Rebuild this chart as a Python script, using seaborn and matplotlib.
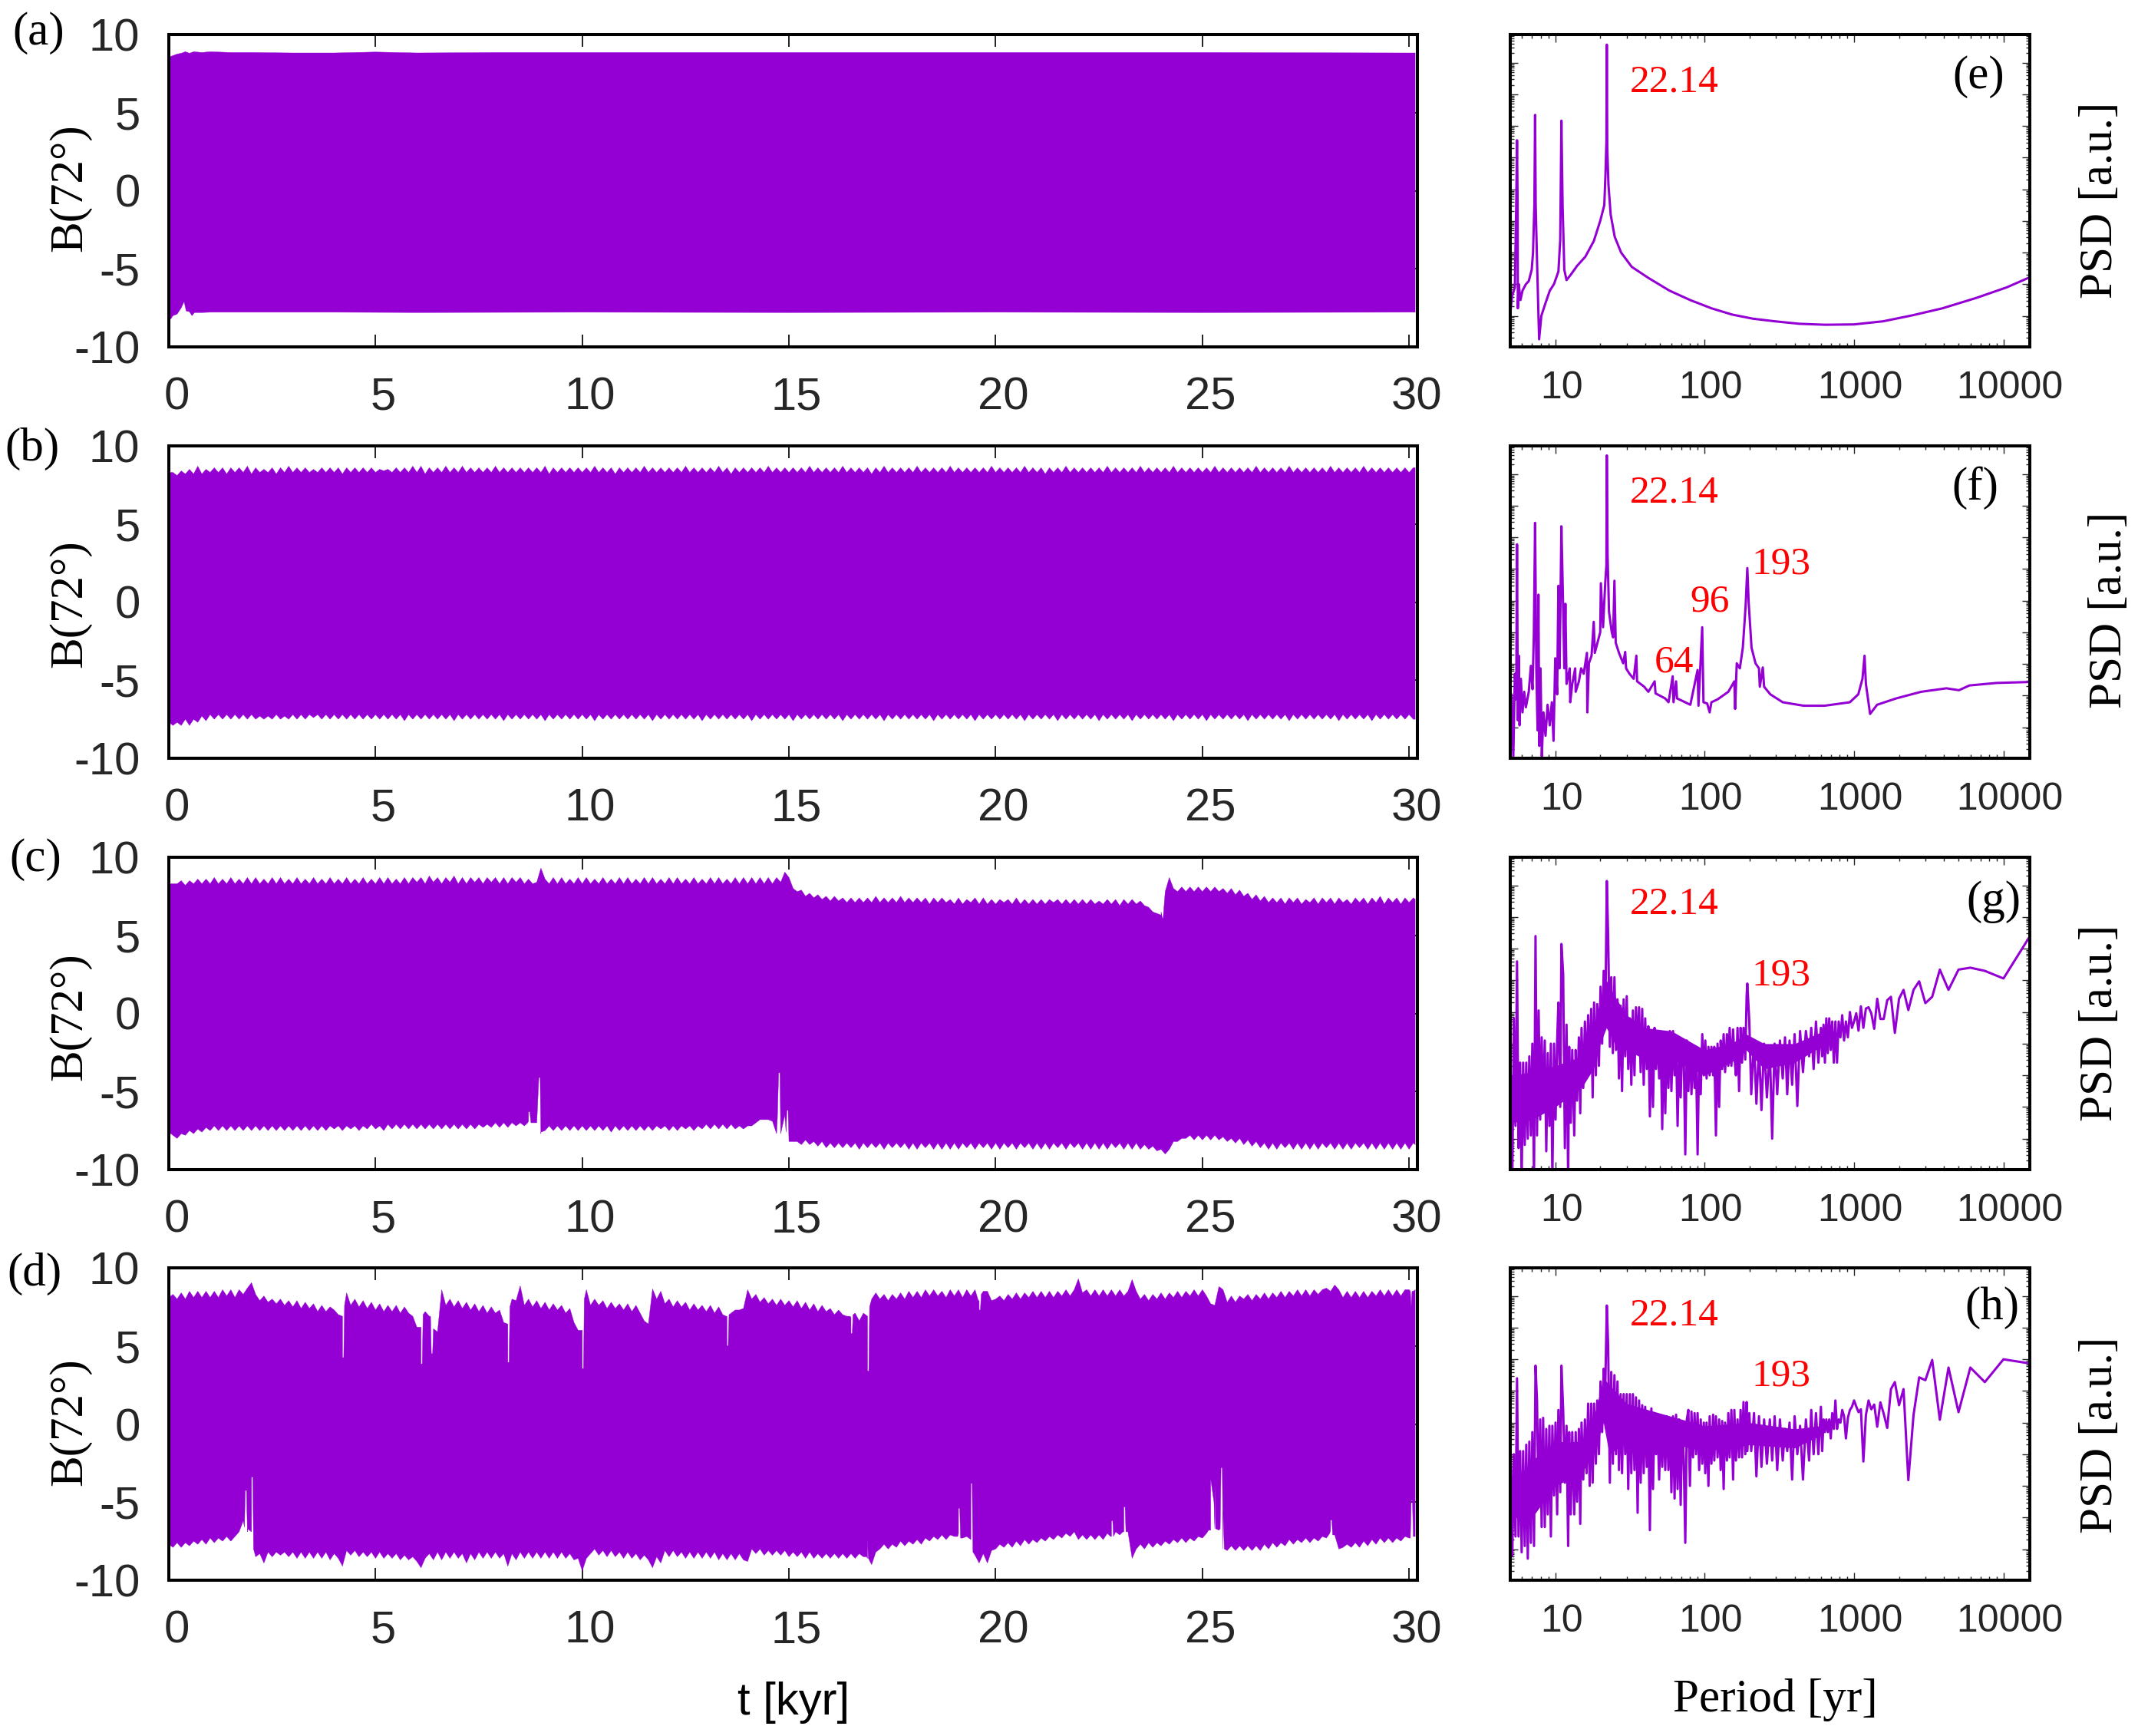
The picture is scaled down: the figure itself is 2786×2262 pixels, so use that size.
import numpy as np
import matplotlib
matplotlib.use("Agg")
import matplotlib.pyplot as plt
from matplotlib.ticker import LogLocator, NullFormatter, NullLocator
from matplotlib.transforms import ScaledTranslation
import seaborn as sns

W, H = 2786, 2262
PURPLE = "#9400D3"

# time axis for the envelopes [kyr]
t_grid = np.arange(302) / 10

# panel (a): flat envelope, only a few points needed
a_up_t = [0, 0.1, 0.2, 0.3, 0.4, 0.5, 0.6, 0.8, 1.0, 1.5, 2, 3, 4, 5, 6, 8, 10, 15, 20, 25, 30, 30.15]
a_up = [8.55, 8.65, 8.75, 8.8, 8.9, 8.8, 8.9, 8.85, 8.9, 8.85, 8.85, 8.82, 8.82, 8.88, 8.82, 8.85, 8.85, 8.85, 8.85, 8.85, 8.82, 8.82]
a_lo_t = [0, 0.05, 0.1, 0.2, 0.3, 0.37, 0.42, 0.5, 0.56, 0.62, 0.8, 1, 2, 4, 6, 10, 15, 20, 25, 30, 30.15]
a_lo = [-8.25, -8.2, -8.0, -7.9, -7.5, -7.1, -7.7, -7.75, -8.0, -7.8, -7.8, -7.78, -7.78, -7.78, -7.8, -7.78, -7.8, -7.78, -7.8, -7.78, -7.78]

b_up = [
    8.3, 8.3, 8.1, 8.4, 8.2, 8.5, 8.2, 8.7, 8.2, 8.5, 8.3, 8.6, 8.3, 8.6, 8.2, 8.6, 8.3, 8.6, 8.3, 8.7,
    8.2, 8.6, 8.3, 8.5, 8.3, 8.6, 8.2, 8.6, 8.3, 8.7, 8.3, 8.6, 8.3, 8.6, 8.3, 8.5, 8.3, 8.6, 8.3, 8.6,
    8.3, 8.6, 8.2, 8.6, 8.3, 8.6, 8.3, 8.6, 8.3, 8.6, 8.3, 8.5, 8.4, 8.5, 8.3, 8.6, 8.3, 8.6, 8.3, 8.7,
    8.3, 8.7, 8.2, 8.6, 8.3, 8.6, 8.3, 8.7, 8.3, 8.6, 8.3, 8.7, 8.3, 8.6, 8.3, 8.6, 8.3, 8.6, 8.3, 8.7,
    8.3, 8.6, 8.3, 8.6, 8.3, 8.6, 8.3, 8.6, 8.3, 8.6, 8.3, 8.7, 8.2, 8.6, 8.3, 8.6, 8.3, 8.6, 8.3, 8.6,
    8.3, 8.6, 8.3, 8.7, 8.3, 8.6, 8.3, 8.6, 8.2, 8.6, 8.3, 8.6, 8.3, 8.6, 8.3, 8.7, 8.3, 8.6, 8.3, 8.6,
    8.3, 8.6, 8.3, 8.6, 8.3, 8.7, 8.3, 8.6, 8.3, 8.6, 8.3, 8.6, 8.3, 8.7, 8.3, 8.6, 8.2, 8.6, 8.3, 8.6,
    8.3, 8.6, 8.3, 8.6, 8.3, 8.7, 8.3, 8.6, 8.3, 8.6, 8.3, 8.6, 8.3, 8.6, 8.3, 8.7, 8.3, 8.6, 8.3, 8.6,
    8.3, 8.6, 8.3, 8.7, 8.3, 8.6, 8.3, 8.6, 8.3, 8.6, 8.2, 8.6, 8.3, 8.7, 8.3, 8.6, 8.3, 8.6, 8.3, 8.6,
    8.3, 8.7, 8.3, 8.6, 8.3, 8.6, 8.3, 8.6, 8.3, 8.7, 8.3, 8.6, 8.3, 8.6, 8.3, 8.6, 8.3, 8.6, 8.3, 8.7,
    8.3, 8.6, 8.3, 8.6, 8.3, 8.6, 8.3, 8.7, 8.3, 8.6, 8.3, 8.6, 8.2, 8.6, 8.3, 8.6, 8.3, 8.7, 8.3, 8.6,
    8.3, 8.6, 8.3, 8.6, 8.3, 8.6, 8.3, 8.7, 8.3, 8.6, 8.3, 8.6, 8.3, 8.6, 8.3, 8.7, 8.3, 8.6, 8.3, 8.6,
    8.3, 8.6, 8.3, 8.7, 8.3, 8.6, 8.3, 8.6, 8.3, 8.6, 8.3, 8.6, 8.3, 8.7, 8.3, 8.6, 8.3, 8.6, 8.3, 8.6,
    8.3, 8.6, 8.3, 8.7, 8.3, 8.6, 8.3, 8.6, 8.3, 8.6, 8.3, 8.7, 8.3, 8.6, 8.3, 8.6, 8.3, 8.6, 8.3, 8.6,
    8.3, 8.7, 8.3, 8.6, 8.3, 8.6, 8.3, 8.6, 8.3, 8.7, 8.3, 8.6, 8.3, 8.6, 8.3, 8.6, 8.3, 8.6, 8.3, 8.6,
    8.3, 8.6,
]
b_lo = [
    -7.7, -7.9, -7.7, -7.9, -7.5, -7.9, -7.5, -7.7, -7.3, -7.6, -7.2, -7.5, -7.2, -7.5, -7.2, -7.5, -7.2, -7.5, -7.2, -7.5,
    -7.2, -7.5, -7.3, -7.5, -7.3, -7.5, -7.2, -7.5, -7.3, -7.5, -7.2, -7.5, -7.2, -7.5, -7.2, -7.4, -7.2, -7.5, -7.2, -7.5,
    -7.2, -7.5, -7.2, -7.5, -7.2, -7.5, -7.2, -7.5, -7.2, -7.5, -7.2, -7.5, -7.2, -7.5, -7.2, -7.5, -7.2, -7.6, -7.2, -7.5,
    -7.2, -7.5, -7.2, -7.5, -7.2, -7.5, -7.2, -7.5, -7.2, -7.6, -7.2, -7.5, -7.2, -7.5, -7.2, -7.5, -7.2, -7.5, -7.2, -7.5,
    -7.2, -7.6, -7.2, -7.5, -7.2, -7.5, -7.2, -7.5, -7.2, -7.5, -7.2, -7.6, -7.2, -7.5, -7.2, -7.5, -7.2, -7.5, -7.2, -7.5,
    -7.2, -7.5, -7.2, -7.6, -7.2, -7.5, -7.2, -7.5, -7.2, -7.5, -7.2, -7.5, -7.2, -7.5, -7.2, -7.5, -7.2, -7.6, -7.2, -7.5,
    -7.2, -7.5, -7.2, -7.5, -7.2, -7.5, -7.2, -7.5, -7.2, -7.6, -7.2, -7.5, -7.2, -7.5, -7.2, -7.5, -7.2, -7.5, -7.2, -7.5,
    -7.2, -7.6, -7.2, -7.5, -7.2, -7.5, -7.2, -7.5, -7.2, -7.5, -7.2, -7.6, -7.2, -7.5, -7.2, -7.5, -7.2, -7.5, -7.2, -7.5,
    -7.2, -7.5, -7.2, -7.6, -7.2, -7.5, -7.2, -7.5, -7.2, -7.5, -7.2, -7.5, -7.2, -7.6, -7.2, -7.5, -7.2, -7.5, -7.2, -7.5,
    -7.2, -7.5, -7.2, -7.5, -7.2, -7.6, -7.2, -7.5, -7.2, -7.5, -7.2, -7.5, -7.2, -7.5, -7.2, -7.6, -7.2, -7.5, -7.2, -7.5,
    -7.2, -7.5, -7.2, -7.5, -7.2, -7.5, -7.2, -7.6, -7.2, -7.5, -7.2, -7.5, -7.2, -7.5, -7.2, -7.6, -7.2, -7.5, -7.2, -7.5,
    -7.2, -7.5, -7.2, -7.5, -7.2, -7.6, -7.2, -7.5, -7.2, -7.5, -7.2, -7.5, -7.2, -7.6, -7.2, -7.5, -7.2, -7.5, -7.2, -7.5,
    -7.2, -7.5, -7.2, -7.6, -7.2, -7.5, -7.2, -7.5, -7.2, -7.5, -7.2, -7.6, -7.2, -7.5, -7.2, -7.5, -7.2, -7.5, -7.2, -7.5,
    -7.2, -7.6, -7.2, -7.5, -7.2, -7.5, -7.2, -7.5, -7.2, -7.5, -7.2, -7.6, -7.2, -7.5, -7.2, -7.5, -7.2, -7.5, -7.2, -7.5,
    -7.2, -7.5, -7.2, -7.6, -7.2, -7.5, -7.2, -7.5, -7.2, -7.5, -7.2, -7.6, -7.2, -7.5, -7.2, -7.5, -7.2, -7.5, -7.2, -7.5,
    -7.2, -7.5,
]

c_up = [
    8.3, 8.3, 8.3, 8.5, 8.2, 8.5, 8.3, 8.6, 8.3, 8.6, 8.3, 8.7, 8.3, 8.6, 8.3, 8.7, 8.3, 8.6, 8.3, 8.7,
    8.3, 8.7, 8.3, 8.6, 8.3, 8.7, 8.3, 8.7, 8.3, 8.6, 8.3, 8.7, 8.3, 8.6, 8.3, 8.7, 8.3, 8.6, 8.3, 8.7,
    8.3, 8.6, 8.3, 8.7, 8.3, 8.6, 8.3, 8.7, 8.3, 8.6, 8.3, 8.7, 8.3, 8.7, 8.3, 8.6, 8.3, 8.7, 8.3, 8.7,
    8.4, 8.7, 8.3, 8.8, 8.4, 8.7, 8.3, 8.7, 8.4, 8.8, 8.3, 8.7, 8.3, 8.7, 8.4, 8.7, 8.3, 8.7, 8.4, 8.7,
    8.3, 8.7, 8.3, 8.7, 8.4, 8.7, 8.3, 8.6, 8.3, 8.4, 9.3, 8.6, 8.3, 8.7, 8.3, 8.7, 8.3, 8.6, 8.3, 8.7,
    8.3, 8.7, 8.3, 8.6, 8.3, 8.7, 8.3, 8.6, 8.3, 8.7, 8.3, 8.7, 8.3, 8.6, 8.3, 8.7, 8.3, 8.7, 8.3, 8.6,
    8.3, 8.7, 8.3, 8.7, 8.3, 8.6, 8.3, 8.7, 8.3, 8.6, 8.3, 8.7, 8.3, 8.7, 8.3, 8.6, 8.3, 8.7, 8.3, 8.7,
    8.3, 8.7, 8.3, 8.7, 8.3, 8.7, 8.3, 8.7, 8.4, 9.05, 8.7, 8.0, 7.8, 7.9, 7.5, 7.7, 7.4, 7.6, 7.3, 7.5,
    7.2, 7.5, 7.2, 7.4, 7.1, 7.4, 7.1, 7.4, 7.1, 7.4, 7.1, 7.5, 7.1, 7.4, 7.1, 7.4, 7.1, 7.5, 7.1, 7.4,
    7.1, 7.4, 7.1, 7.4, 7.0, 7.4, 7.1, 7.4, 7.1, 7.3, 7.0, 7.4, 7.0, 7.3, 7.1, 7.4, 7.0, 7.4, 7.0, 7.3,
    7.0, 7.3, 7.1, 7.3, 7.0, 7.4, 7.0, 7.3, 7.0, 7.3, 7.0, 7.3, 7.0, 7.3, 7.1, 7.3, 7.0, 7.3, 7.0, 7.3,
    7.0, 7.3, 7.0, 7.3, 7.0, 7.2, 7.0, 7.3, 7.0, 7.3, 6.9, 7.3, 7.0, 7.3, 7.0, 7.2, 6.9, 6.8, 6.5, 6.4,
    6.3, 7.8, 8.7, 8.0, 7.8, 8.1, 7.8, 8.1, 7.8, 8.1, 7.8, 8.1, 7.8, 8.1, 7.8, 8.0, 7.7, 8.0, 7.6, 7.9,
    7.5, 7.7, 7.3, 7.6, 7.2, 7.5, 7.1, 7.4, 7.1, 7.4, 7.0, 7.4, 7.1, 7.4, 7.0, 7.3, 7.1, 7.4, 7.0, 7.4,
    7.1, 7.4, 7.0, 7.4, 7.1, 7.3, 7.0, 7.4, 7.1, 7.4, 7.0, 7.4, 7.1, 7.5, 7.0, 7.4, 7.1, 7.4, 7.0, 7.4,
    7.1, 7.4,
]
c_lo = [
    -7.6, -7.8, -8.0, -7.7, -7.8, -7.5, -7.7, -7.4, -7.6, -7.3, -7.5, -7.2, -7.5, -7.2, -7.5, -7.2, -7.5, -7.2, -7.5, -7.2,
    -7.5, -7.2, -7.5, -7.2, -7.5, -7.2, -7.5, -7.2, -7.5, -7.2, -7.5, -7.2, -7.5, -7.2, -7.5, -7.2, -7.5, -7.2, -7.5, -7.2,
    -7.4, -7.2, -7.5, -7.2, -7.4, -7.2, -7.5, -7.2, -7.4, -7.1, -7.4, -7.2, -7.5, -7.1, -7.4, -7.1, -7.4, -7.1, -7.4, -7.1,
    -7.4, -7.1, -7.4, -7.1, -7.4, -7.1, -7.4, -7.1, -7.4, -7.1, -7.4, -7.1, -7.4, -7.1, -7.4, -7.1, -7.3, -7.1, -7.3, -7.0,
    -7.3, -7.0, -7.3, -7.0, -7.2, -7.0, -7.2, -6.9, -7.0, -7.0, -7.7, -7.5, -7.2, -7.5, -7.2, -7.5, -7.2, -7.5, -7.2, -7.5,
    -7.2, -7.5, -7.2, -7.5, -7.2, -7.5, -7.2, -7.6, -7.2, -7.5, -7.2, -7.5, -7.2, -7.5, -7.2, -7.5, -7.2, -7.5, -7.2, -7.4,
    -7.2, -7.5, -7.2, -7.5, -7.2, -7.4, -7.2, -7.5, -7.2, -7.4, -7.1, -7.4, -7.1, -7.4, -7.1, -7.4, -7.1, -7.4, -7.2, -7.4,
    -7.2, -7.2, -7.0, -6.8, -6.8, -6.8, -6.9, -7.7, -7.6, -6.5, -8.2, -8.2, -8.2, -8.4, -8.1, -8.4, -8.2, -8.5, -8.2, -8.6,
    -8.3, -8.6, -8.3, -8.6, -8.3, -8.6, -8.3, -8.7, -8.3, -8.6, -8.3, -8.6, -8.3, -8.7, -8.3, -8.6, -8.3, -8.6, -8.3, -8.7,
    -8.3, -8.7, -8.3, -8.6, -8.3, -8.7, -8.3, -8.7, -8.3, -8.7, -8.3, -8.7, -8.3, -8.6, -8.3, -8.7, -8.3, -8.6, -8.3, -8.7,
    -8.3, -8.7, -8.3, -8.6, -8.3, -8.7, -8.3, -8.6, -8.3, -8.7, -8.3, -8.7, -8.3, -8.7, -8.3, -8.6, -8.3, -8.7, -8.3, -8.6,
    -8.3, -8.7, -8.3, -8.7, -8.3, -8.7, -8.3, -8.7, -8.3, -8.6, -8.3, -8.7, -8.3, -8.7, -8.3, -8.7, -8.4, -8.7, -8.5, -8.8,
    -8.7, -9.0, -8.7, -8.2, -8.2, -8.0, -8.0, -7.8, -8.1, -7.8, -8.1, -7.8, -8.1, -7.8, -8.1, -7.9, -8.2, -8.0, -8.3, -8.0,
    -8.4, -8.1, -8.5, -8.2, -8.6, -8.3, -8.7, -8.3, -8.7, -8.3, -8.6, -8.3, -8.7, -8.3, -8.7, -8.3, -8.7, -8.3, -8.7, -8.3,
    -8.6, -8.3, -8.7, -8.3, -8.7, -8.3, -8.7, -8.3, -8.6, -8.3, -8.7, -8.3, -8.7, -8.3, -8.7, -8.3, -8.7, -8.3, -8.7, -8.3,
    -8.7, -8.3,
]
# narrow spikes that stick out of the (c) envelope
c_up_extra_t = [24.0, 24.03, 24.05, 30.15]
c_up_extra = [6.5, 6.1, 6.1, 7.3]
c_lo_extra_t = [8.68, 8.7, 8.73, 8.76, 8.95, 8.98, 9.0, 14.72, 14.75, 14.78, 14.8, 14.93, 14.95, 14.98, 30.15]
c_lo_extra = [-7.0, -6.3, -6.3, -7.0, -4.1, -4.1, -7.6, -6.7, -3.8, -3.8, -7.7, -7.6, -6.2, -6.2, -8.4]

d_up = [
    8.1, 8.3, 8.0, 8.4, 8.0, 8.5, 8.1, 8.5, 8.1, 8.5,
    8.1, 8.5, 8.1, 8.6, 8.2, 8.6, 8.1, 8.6, 8.3, 8.7,
    9.05, 8.3, 7.9, 8.2, 7.8, 8.0, 7.7, 8.0, 7.6, 7.9,
    7.5, 7.9, 7.4, 7.8, 7.4, 7.7, 7.2, 7.6, 7.2, 7.5,
    7.3, 7.0, 6.9, 8.4, 7.6, 8.0, 7.5, 7.9, 7.4, 7.8,
    7.3, 7.7, 7.2, 7.6, 7.2, 7.6, 7.1, 7.5, 7.1, 6.9,
    6.2, 6.2, 7.2, 6.9, 6.1, 5.9, 8.6, 7.6, 8.0, 7.5,
    7.9, 7.4, 7.8, 7.3, 7.7, 7.2, 7.6, 7.1, 7.5, 7.1,
    7.3, 6.5, 6.4, 8.0, 7.9, 8.85, 7.6, 8.0, 7.5, 7.9,
    7.4, 7.8, 7.3, 7.7, 7.3, 7.6, 7.1, 7.4, 6.5, 6.0,
    6.0, 8.6, 7.6, 8.0, 7.6, 7.9, 7.4, 7.8, 7.4, 7.7,
    7.3, 7.7, 7.2, 7.6, 7.1, 6.6, 6.4, 8.65, 8.0, 8.5,
    7.7, 8.0, 7.5, 7.9, 7.5, 7.8, 7.3, 7.7, 7.3, 7.6,
    7.2, 7.6, 7.1, 7.5, 7.0, 6.9, 7.1, 7.3, 7.3, 7.4,
    8.6, 8.0, 8.3, 7.8, 8.1, 7.7, 8.0, 7.6, 8.0, 7.6,
    7.9, 7.5, 7.9, 7.4, 7.8, 7.3, 7.7, 7.2, 7.6, 7.2,
    7.4, 7.0, 7.3, 7.0, 6.9, 6.8, 7.1, 6.6, 7.1, 6.9,
    8.0, 8.4, 8.0, 8.3, 7.9, 8.3, 8.0, 8.4, 8.0, 8.5,
    8.1, 8.5, 8.1, 8.6, 8.2, 8.6, 8.2, 8.5, 8.1, 8.6,
    8.2, 8.6, 8.1, 8.6, 8.2, 8.6, 7.9, 8.5, 8.5, 7.9,
    8.0, 8.2, 7.9, 8.3, 8.0, 8.4, 8.0, 8.4, 8.1, 8.5,
    8.1, 8.5, 8.1, 8.5, 8.1, 8.5, 8.2, 8.6, 8.2, 8.6,
    9.3, 8.4, 8.6, 8.2, 8.6, 8.2, 8.6, 8.2, 8.6, 8.2,
    8.6, 8.2, 8.5, 9.25, 8.5, 8.0, 8.3, 7.9, 8.3, 8.0,
    8.4, 8.0, 8.4, 8.1, 8.5, 8.1, 8.5, 8.2, 8.6, 8.2,
    8.6, 8.2, 7.7, 7.6, 8.8, 8.6, 7.8, 8.2, 7.8, 8.2,
    8.0, 8.3, 7.9, 8.3, 8.0, 8.4, 8.0, 8.4, 8.1, 8.5,
    8.1, 8.5, 8.2, 8.6, 8.2, 8.6, 8.2, 8.6, 8.3, 8.6,
    8.7, 8.5, 8.9, 8.6, 8.1, 8.5, 8.1, 8.5, 8.1, 8.5,
    8.1, 8.5, 8.2, 8.6, 8.2, 8.6, 8.2, 8.6, 8.2, 8.6,
    8.6, 8.5,
]
d_lo = [
    -7.7, -7.9, -7.6, -7.9, -7.6, -7.8, -7.5, -7.7, -7.4, -7.7,
    -7.3, -7.6, -7.3, -7.5, -7.2, -7.5, -7.2, -6.9, -6.2, -6.9,
    -6.9, -8.5, -8.3, -8.9, -8.2, -8.5, -8.2, -8.4, -8.2, -8.5,
    -8.2, -8.6, -8.2, -8.6, -8.2, -8.6, -8.2, -8.6, -8.2, -8.7,
    -8.3, -8.6, -9.1, -8.1, -8.4, -8.1, -8.5, -8.2, -8.5, -8.2,
    -8.6, -8.2, -8.6, -8.3, -8.6, -8.3, -8.7, -8.4, -8.7, -8.5,
    -8.8, -9.2, -8.6, -8.3, -8.7, -8.2, -8.7, -8.2, -8.6, -8.2,
    -8.6, -8.3, -8.9, -8.3, -8.7, -8.2, -8.6, -8.2, -8.6, -8.2,
    -8.6, -8.3, -9.1, -8.3, -8.7, -8.2, -8.6, -8.2, -8.6, -8.2,
    -8.6, -8.2, -8.6, -8.2, -8.6, -8.2, -8.6, -8.3, -8.7, -8.6,
    -9.4, -8.6, -8.3, -8.0, -8.4, -8.1, -8.5, -8.1, -8.5, -8.2,
    -8.6, -8.2, -8.6, -8.3, -8.7, -8.4, -8.7, -9.2, -8.5, -8.9,
    -8.1, -8.5, -8.1, -8.5, -8.2, -8.6, -8.2, -8.6, -8.2, -8.6,
    -8.2, -8.6, -8.2, -8.7, -8.3, -8.7, -8.3, -8.7, -8.3, -8.7,
    -8.8, -8.0, -8.3, -8.0, -8.4, -8.1, -8.4, -8.1, -8.4, -8.1,
    -8.5, -8.2, -8.5, -8.2, -8.6, -8.2, -8.6, -8.3, -8.6, -8.3,
    -8.6, -8.3, -8.6, -8.3, -8.6, -8.3, -8.6, -8.3, -8.5, -8.6,
    -9.0, -8.2, -8.0, -7.7, -8.0, -7.7, -7.9, -7.5, -7.8, -7.5,
    -7.7, -7.4, -7.7, -7.3, -7.5, -7.2, -7.4, -7.1, -7.4, -7.1,
    -7.2, -7.0, -7.3, -7.2, -7.4, -8.4, -8.9, -8.3, -8.9, -8.1,
    -8.0, -7.7, -7.9, -7.6, -7.9, -7.5, -7.8, -7.4, -7.7, -7.4,
    -7.6, -7.3, -7.5, -7.2, -7.4, -7.1, -7.3, -7.0, -7.2, -6.9,
    -7.4, -7.1, -7.4, -7.1, -7.4, -7.1, -7.4, -7.0, -7.2, -6.9,
    -7.1, -6.9, -6.9, -8.6, -8.0, -7.7, -8.0, -7.6, -7.9, -7.6,
    -7.8, -7.5, -7.7, -7.4, -7.6, -7.3, -7.6, -7.3, -7.5, -7.2,
    -7.3, -7.0, -6.8, -6.7, -6.8, -8.0, -8.1, -7.8, -8.1, -7.8,
    -8.1, -7.8, -8.1, -7.8, -8.1, -7.7, -8.0, -7.6, -7.9, -7.6,
    -7.8, -7.4, -7.7, -7.4, -7.6, -7.3, -7.6, -7.3, -7.5, -7.2,
    -7.3, -6.8, -7.1, -8.0, -7.9, -7.7, -7.9, -7.6, -7.9, -7.5,
    -7.8, -7.4, -7.7, -7.3, -7.6, -7.3, -7.6, -7.3, -7.5, -7.2,
    -7.3, -7.1,
]
d_up_extra_t = [4.2, 4.23, 4.25, 6.1, 6.13, 6.15, 6.33, 6.35, 6.38, 6.4, 8.2, 8.23, 8.25, 10.0, 10.03, 10.05,
                13.48, 13.5, 13.53, 13.55, 16.48, 16.5, 16.53, 16.55, 16.9, 16.93, 16.95, 19.58, 19.6, 19.63, 19.65,
                30.03, 30.05, 30.07, 30.15]
d_up_extra = [4.25, 4.25, 7.6, 3.85, 3.85, 7.0, 6.9, 4.5, 4.5, 6.1, 3.95, 3.95, 7.5, 3.55, 3.55, 8.0,
              6.9, 5.0, 5.0, 7.0, 6.9, 5.8, 5.8, 7.0, 3.4, 3.4, 7.5, 7.9, 7.3, 7.3, 8.3,
              8.5, 7.5, 8.5, 8.6]
d_lo_extra_t = [1.83, 1.85, 1.88, 1.9, 2.0, 2.03, 2.05, 16.88, 16.9, 16.92, 19.08, 19.1, 19.13, 19.15, 19.4, 19.43, 19.45,
                22.78, 22.8, 22.83, 22.85, 23.08, 23.1, 23.13, 23.15, 25.15, 25.2, 25.28, 25.3, 25.32,
                25.43, 25.45, 25.48, 25.5, 25.53, 28.08, 28.1, 28.13, 28.15, 30.03, 30.05, 30.08, 30.1, 30.15]
d_lo_extra = [-6.6, -4.25, -4.25, -6.7, -3.4, -3.4, -8.0, -8.5, -7.4, -8.6, -7.2, -5.4, -5.4, -7.3, -3.8, -3.8, -8.2,
              -7.2, -6.2, -6.2, -7.2, -6.9, -5.3, -5.3, -6.9, -6.8, -3.5, -5.0, -3.9, -6.7,
              -6.7, -2.8, -2.8, -5.6, -8.0, -7.0, -6.15, -6.15, -7.1, -7.3, -4.9, -4.9, -7.2, -7.2]

# PSD panels: period [yr] and log10(PSD)
e_period = [5.0, 5.15, 5.37, 5.48, 5.55, 5.6, 5.62, 5.7, 5.85, 6.04, 6.36, 6.65, 6.96, 7.1, 7.25, 7.33, 7.4, 7.57, 7.8, 8.07,
            8.6, 9.2, 9.8, 10.5, 10.8, 11.0, 11.2, 11.5, 11.9, 12.7, 14, 15.9, 18.1, 20, 21.3, 21.7, 22.0, 22.14, 22.3, 22.7,
            23.5, 25, 27.6, 32.5, 42, 58, 80, 111, 153, 211, 293, 430, 640, 1000, 1570, 2470, 3910, 6600, 10500, 15000]
e_logpsd = [-7.92, -7.35, -7.1, -4.5, -2.45, -4.5, -7.76, -7.0, -7.5, -7.2, -7.0, -6.9, -6.54, -6.0, -4.5, -1.65, -4.5, -6.45, -8.74, -8.0,
            -7.6, -7.2, -7.0, -6.6, -5.6, -1.83, -4.5, -6.54, -6.87, -6.7, -6.42, -6.13, -5.64, -5.0, -4.5, -3.5, -2.5, 0.57, -2.7, -3.84,
            -4.8, -5.5, -6.0, -6.45, -6.8, -7.2, -7.5, -7.76, -7.96, -8.09, -8.17, -8.25, -8.28, -8.27, -8.17, -7.98, -7.76, -7.43, -7.1, -6.78]

f_period = [5.0, 5.1, 5.24, 5.37, 5.48, 5.55, 5.62, 5.7, 5.77, 5.89, 6.04, 6.2, 6.36, 6.65, 6.87, 7.05, 7.19, 7.33, 7.47, 7.62,
            7.72, 7.82, 7.97, 8.13, 8.34, 8.61, 8.89, 9.19, 9.49, 9.74, 10, 10.3, 10.5, 10.7, 11.0, 11.2, 11.5, 11.7, 11.9, 12.5,
            12.6, 13, 13.6, 13.7, 14.4, 14.9, 15.5, 16.3, 16.4, 16.8, 17.5, 18.1, 18.4, 20, 20.2, 20.9, 21.6, 22.0, 22.14, 22.4,
            22.9, 23.9, 24.4, 24.9, 25.4, 26.7, 28.5, 29.4, 29.8, 31.4, 33.5, 34.9, 35.3, 39.4, 42, 46.3, 46.9, 54.4, 57.3, 61.1,
            61.9, 64.4, 65.3, 70.4, 80.2, 89.7, 90.9, 96.3, 98.2, 104, 108, 111, 122, 144, 158, 160, 164, 172, 180, 188,
            193, 197, 206, 219, 231, 234, 245, 250, 275, 333, 460, 635, 937, 1067, 1138, 1175, 1200, 1280, 1426, 1910,
            2810, 4150, 5035, 5910, 9016, 15000]
f_logpsd = [-7.78, -6.96, -8.92, -6.31, -7.12, -2.22, -7.78, -5.74, -7.94, -6.47, -7.53, -6.88, -7.37, -6.88, -6.06, -6.8, -5.08, -1.54, -6.14, -8.1,
            -3.81, -8.59, -6.14, -8.92, -7.53, -8.27, -7.29, -7.94, -7.21, -8.43, -5.82, -6.96, -3.53, -6.14, -1.65, -3.37, -6.14, -4.1, -6.63, -6.14,
            -7.21, -6.63, -6.14, -6.88, -6.55, -6.14, -6.31, -5.65, -7.53, -5.98, -5.74, -4.67, -5.65, -5.0, -3.45, -4.84, -3.45, -2.88, 0.59, -2.55,
            -4.35, -5.0, -5.16, -3.37, -5.33, -5.65, -5.98, -5.62, -6.14, -6.31, -6.47, -5.74, -6.55, -6.72, -6.88, -6.55, -6.93, -7.09, -7.21, -6.39,
            -7.21, -6.55, -7.09, -7.16, -7.29, -6.19, -7.32, -4.84, -7.21, -7.25, -7.53, -7.21, -7.12, -6.88, -6.55, -7.42, -5.98, -6.14, -5.49, -4.18,
            -2.97, -4.05, -5.49, -5.98, -6.14, -6.72, -6.11, -6.72, -6.96, -7.21, -7.32, -7.32, -7.21, -6.96, -6.47, -5.74, -6.63, -7.58, -7.29, -7.09,
            -6.88, -6.77, -6.83, -6.68, -6.6, -6.57]

# sampling of the (g) and (h) spectra
psd_period = [
    5.05, 5.16, 5.28, 5.42, 5.55, 5.68, 5.82, 5.96, 6.10, 6.25,
    6.40, 6.55, 6.71, 6.87, 7.03, 7.21, 7.38, 7.55, 7.74, 7.93,
    8.11, 8.30, 8.51, 8.71, 8.91, 9.14, 9.35, 9.57, 9.82, 10.05,
    10.3, 10.5, 10.8, 11.0, 11.3, 11.6, 11.9, 12.2, 12.4, 12.7,
    13.0, 13.4, 13.7, 14.0, 14.4, 14.7, 15.0, 15.4, 15.8, 16.2,
    16.6, 17.0, 17.4, 17.8, 18.2, 18.7, 19.1, 19.6, 20.1, 20.6,
    21.1, 21.6, 22.14, 22.6, 23.2, 23.7, 24.3, 24.9, 25.5, 26.1,
    26.7, 27.4, 28.0, 28.7, 29.4, 30.1, 30.8, 31.6, 32.3, 33.1,
    33.9, 34.7, 35.6, 36.4, 37.3, 38.2, 39.1, 40.0, 41.0, 42.0,
    43.0, 44.0, 45.1, 46.2, 47.3, 48.4, 49.6, 50.8, 52.0, 53.2,
    54.5, 55.8, 57.2, 58.5, 59.9, 61.4, 62.9, 64.4, 65.9, 67.5,
    69.1, 70.8, 72.5, 74.2, 76.0, 77.8, 79.7, 81.6, 83.6, 85.6,
    87.6, 89.7, 91.9, 94.1, 96.4, 98.7, 101, 103, 106, 108,
    111, 114, 116, 119, 122, 125, 128, 131, 134, 137,
    141, 144, 147, 151, 155, 158, 162, 166, 170, 174,
    178, 182, 187, 191, 193, 199,
    205, 214, 222, 231, 240, 250, 261, 273, 283, 294,
    306, 319, 333, 345, 357, 370, 385, 400, 417, 435,
    455, 476, 500, 517, 536, 556, 577, 600, 612, 625,
    638, 652, 667, 682, 698, 714, 732, 750, 769, 789,
    811, 833, 857, 882, 909, 938, 968,
    1000, 1034, 1071, 1111, 1154, 1200, 1250, 1304, 1364, 1429,
    1500, 1579, 1667, 1765, 1875, 2000, 2143, 2308, 2500, 2727,
    3000, 3333, 3750, 4286, 5000, 6000, 7500, 10000, 15000,
]
g_logpsd = [
    -6.6, -9.3, -4.2, -7.6, -2.4, -8.3, -5.6, -9.3, -5.6, -8.2,
    -5.6, -8.0, -5.4, -7.9, -5.0, -9.3, -1.6, -7.9, -3.95, -7.4,
    -4.8, -7.0, -4.9, -8.4, -5.3, -7.6, -5.0, -9.2, -5.0, -7.4,
    -4.9, -3.7, -7.0, -1.85, -2.8, -8.3, -4.4, -9.3, -5.1, -7.5,
    -5.2, -7.9, -5.2, -6.8, -4.8, -7.2, -4.5, -6.4, -4.3, -6.0,
    -4.1, -5.9, -3.9, -6.7, -3.7, -6.0, -3.75, -5.7, -3.2, -5.0,
    -2.7, -4.5, 0.14, -1.6, -5.1, -2.9, -5.3, -2.9, -5.2, -3.6,
    -6.1, -3.8, -6.5, -3.6, -5.4, -3.5, -5.8, -4.2, -6.3, -3.95,
    -6.0, -3.85, -5.1, -3.85, -5.9, -3.9, -6.3, -4.2, -5.8, -4.45,
    -7.3, -4.8, -7.0, -4.5, -5.8, -4.6, -6.1, -4.8, -7.7, -4.7,
    -7.2, -4.8, -6.4, -4.6, -6.5, -4.6, -6.0, -5.0, -7.6, -5.3,
    -6.7, -5.0, -5.4, -8.5, -4.9, -6.5, -5.0, -6.6, -5.1, -6.4,
    -5.5, -8.5, -5.3, -6.6, -4.7, -6.0, -4.9, -6.1, -5.1, -6.0,
    -5.1, -6.0, -5.1, -7.9, -5.0, -7.0, -4.9, -5.8, -4.7, -5.9,
    -4.7, -5.7, -4.5, -5.7, -4.55, -5.4, -6.0, -4.5, -6.5, -4.5,
    -5.6, -4.5, -5.5, -3.5, -3.1, -4.3,
    -6.6, -4.9, -6.9, -5.1, -7.1, -5.0, -6.7, -5.1, -8.0, -5.0,
    -6.6, -4.9, -6.1, -4.8, -6.6, -4.9, -6.3, -4.7, -6.97, -4.6,
    -5.9, -4.6, -5.4, -4.5, -5.8, -4.3, -5.6, -4.5, -5.4, -4.4,
    -5.6, -4.2, -5.3, -4.2, -5.2, -4.3, -5.6, -4.3, -5.6, -4.3,
    -4.8, -4.1, -4.9, -4.3, -4.8, -4.0, -4.5,
    -4.3, -4.04, -4.59, -3.82, -4.5, -3.89, -3.85, -4.04, -4.53, -3.58,
    -4.22, -4.22, -3.63, -3.52, -4.66, -3.58, -3.3, -3.94, -3.3, -3.03,
    -3.72, -3.52, -2.66, -3.3, -2.66, -2.6, -2.7, -2.94, -1.61,
]
h_logpsd = [
    -5.3, -8.2, -5.0, -7.6, -2.6, -7.6, -4.9, -8.1, -4.9, -7.9,
    -4.7, -8.3, -4.6, -7.8, -4.3, -7.9, -2.2, -3.3, -6.6, -3.9,
    -7.3, -3.85, -7.3, -4.2, -6.9, -4.1, -7.6, -4.1, -6.3, -4.0,
    -6.9, -3.6, -6.2, -2.2, -3.6, -5.9, -4.1, -7.9, -4.3, -6.9,
    -4.3, -6.9, -4.3, -6.5, -4.2, -7.2, -4.0, -5.8, -3.9, -5.6,
    -3.4, -6.0, -3.4, -5.9, -3.4, -5.3, -3.3, -5.0, -2.7, -4.3,
    -2.3, -3.0, -0.3, -1.55, -5.9, -2.4, -5.3, -2.5, -5.0, -2.7,
    -5.5, -3.1, -5.6, -3.1, -5.0, -3.1, -6.1, -3.1, -5.6, -3.1,
    -5.5, -3.2, -6.85, -3.3, -5.9, -3.45, -5.6, -3.5, -5.4, -4.0,
    -7.4, -3.55, -6.1, -3.7, -5.0, -4.1, -5.8, -3.9, -5.4, -3.8,
    -5.5, -3.8, -5.5, -3.85, -6.2, -3.8, -6.4, -3.75, -6.1, -3.9,
    -6.6, -3.95, -5.2, -7.8, -3.9, -3.6, -6.0, -3.65, -5.1, -3.7,
    -5.0, -3.7, -5.5, -3.9, -5.3, -4.0, -5.6, -4.0, -6.0, -3.8,
    -5.3, -3.75, -5.2, -3.8, -5.1, -3.9, -5.5, -3.95, -6.1, -4.0,
    -5.2, -3.7, -5.1, -3.6, -5.8, -3.6, -5.2, -3.9, -5.1, -3.6,
    -5.1, -3.35, -5.0, -3.35, -4.9, -3.7,
    -4.9, -3.7, -5.7, -3.8, -5.4, -3.9, -5.3, -3.9, -5.2, -3.8,
    -5.5, -3.9, -5.2, -4.2, -4.9, -4.0, -5.8, -3.8, -5.0, -4.1,
    -5.8, -3.9, -5.2, -3.6, -5.0, -3.7, -5.0, -3.5, -4.9, -3.9,
    -4.3, -3.9, -4.3, -3.9, -4.5, -3.7, -4.2, -3.3, -4.2, -3.9,
    -4.0, -3.6, -3.8, -4.5, -3.85, -3.6, -3.5,
    -3.3, -3.49, -3.67, -3.58, -5.23, -3.76, -3.3, -3.58, -3.43, -4.13,
    -3.36, -3.72, -4.17, -2.94, -2.72, -3.45, -2.94, -5.82, -3.76, -2.57,
    -2.66, -2.02, -3.91, -2.26, -3.67, -2.26, -2.72, -2.0, -2.13,
]

# solid core of the noisy band in (g) and (h)
g_core_period = [5.05, 7, 10, 15, 18, 20, 22, 25, 30, 40, 60, 100, 150, 190, 250, 400, 700]
g_core_hi = [-6.0, -5.9, -5.7, -5.4, -4.6, -3.6, -3.0, -3.5, -4.1, -4.5, -4.6, -5.2, -5.0, -4.7, -5.0, -5.0, -4.5]
g_core_lo = [-7.5, -7.4, -7.0, -6.4, -5.8, -5.0, -4.5, -5.0, -5.2, -5.5, -5.5, -6.0, -5.6, -5.2, -5.8, -5.6, -4.9]
h_core_period = [5.05, 7, 10, 15, 18, 21, 23, 30, 50, 100, 200, 400, 600]
h_core_hi = [-6.0, -5.2, -4.6, -4.6, -3.9, -2.6, -2.8, -3.4, -3.7, -4.1, -4.0, -4.2, -4.1]
h_core_lo = [-7.0, -7.0, -6.0, -5.6, -5.0, -4.0, -5.0, -4.6, -4.6, -4.9, -4.7, -4.8, -4.4]

b_ticks = [-10, -5, 0, 5, 10]
b_ticklabels = ["-10", "-5", "0", "5", "10"]
t_ticks = [0, 5, 10, 15, 20, 25, 30]
t_ticklabels = ["0", "5", "10", "15", "20", "25", "30"]
period_ticks = [10, 100, 1000, 10000]
period_ticklabels = ["10", "100", "1000", "10000"]

panel_tops = [45, 581, 1117, 1652]
panel_height = 407


def px_axes(fig, left, top, right, bottom):
    return fig.add_axes([left / W, 1 - bottom / H, (right - left) / W, (bottom - top) / H])


def merge_edge(t, v, extra_t=(), extra_v=()):
    # put the hand-read narrow spikes in between the envelope points
    all_t = np.concatenate([t, extra_t])
    all_v = np.concatenate([v, extra_v])
    order = np.argsort(all_t, kind="stable")
    return all_t[order], all_v[order]


def shift_labels(labels, fig, dx_px):
    # gnuplot puts the labels a bit to the right of the ticks
    offset = ScaledTranslation(dx_px / 100, 0, fig.dpi_scale_trans)
    for lab in labels:
        lab.set_transform(lab.get_transform() + offset)


sns.set_theme(style="ticks")
plt.rcParams["font.family"] = ["Liberation Sans", "DejaVu Sans"]
plt.rcParams["xtick.direction"] = "in"
plt.rcParams["ytick.direction"] = "in"
plt.rcParams["axes.edgecolor"] = "black"

fig = plt.figure(figsize=(W / 100, H / 100), dpi=100, facecolor="white")

# left column: time series
edges = [
    (merge_edge(a_up_t, a_up), merge_edge(a_lo_t, a_lo)),
    (merge_edge(t_grid, b_up, [30.15], [8.6]), merge_edge(t_grid, b_lo, [30.15], [-7.5])),
    (merge_edge(t_grid, c_up, c_up_extra_t, c_up_extra), merge_edge(t_grid, c_lo, c_lo_extra_t, c_lo_extra)),
    (merge_edge(t_grid, d_up, d_up_extra_t, d_up_extra), merge_edge(t_grid, d_lo, d_lo_extra_t, d_lo_extra)),
]
for (up, lo), top in zip(edges, panel_tops):
    ax = px_axes(fig, 220, top, 1847, top + panel_height)
    ax.set_axisbelow(True)
    ax.fill(np.concatenate([up[0], lo[0][::-1]]), np.concatenate([up[1], lo[1][::-1]]), color=PURPLE, linewidth=0)
    sns.lineplot(x=up[0], y=up[1], ax=ax, color=PURPLE, linewidth=0.3, estimator=None, sort=False)
    sns.lineplot(x=lo[0], y=lo[1], ax=ax, color=PURPLE, linewidth=0.3, estimator=None, sort=False)
    ax.set_xlim(0, 30.2)
    ax.set_ylim(-10, 10)
    ax.set_xticks(t_ticks, t_ticklabels)
    ax.set_yticks(b_ticks, b_ticklabels)
    ax.yaxis.set_minor_locator(NullLocator())
    ax.tick_params(axis="x", which="major", top=True, bottom=True, length=11.5, width=1.44, labelsize=43, pad=28)
    ax.tick_params(axis="y", which="major", left=True, right=True, length=11.5, width=1.44, labelsize=43, pad=27)
    shift_labels(ax.get_xticklabels(), fig, 10)
    for spine in ax.spines.values():
        spine.set_visible(True)
        spine.set_linewidth(2.9)

# right column: spectra
spectra = [(e_period, e_logpsd, None), (f_period, f_logpsd, None),
           (psd_period, g_logpsd, (g_core_period, g_core_hi, g_core_lo)),
           (psd_period, h_logpsd, (h_core_period, h_core_hi, h_core_lo))]
for (period, logpsd, core), top in zip(spectra, panel_tops):
    ax = px_axes(fig, 1968, top, 2645, top + panel_height)
    ax.set_xscale("log")
    ax.set_yscale("log")
    if core is not None:
        ax.fill_between(core[0], 10.0 ** np.array(core[2]), 10.0 ** np.array(core[1]), color=PURPLE, linewidth=0)
    sns.lineplot(x=period, y=10.0 ** np.array(logpsd), ax=ax, color=PURPLE, linewidth=2.2, estimator=None, sort=False)
    ax.set_xlim(5, 15000)
    ax.set_ylim(10 ** -8.98, 10 ** 0.89)
    ax.set_xticks(period_ticks, period_ticklabels)
    ax.xaxis.set_minor_locator(LogLocator(base=10, subs=range(2, 10), numticks=20))
    ax.xaxis.set_minor_formatter(NullFormatter())
    ax.yaxis.set_major_locator(LogLocator(base=10, numticks=20))
    ax.yaxis.set_minor_locator(LogLocator(base=10, subs=range(2, 10), numticks=20))
    ax.yaxis.set_major_formatter(NullFormatter())
    ax.yaxis.set_minor_formatter(NullFormatter())
    ax.tick_params(axis="both", which="major", top=True, bottom=True, left=True, right=True, length=7, width=1)
    ax.tick_params(axis="both", which="minor", top=True, bottom=True, left=True, right=True, length=3.6, width=1)
    ax.tick_params(axis="x", which="major", labelsize=36, pad=22)
    shift_labels(ax.get_xticklabels(), fig, 8)
    for spine in ax.spines.values():
        spine.set_visible(True)
        spine.set_linewidth(2.9)


def px_text(x, y, s, **kw):
    kw.setdefault("ha", "center")
    kw.setdefault("va", "center")
    fig.text(x / W, 1 - y / H, s, **kw)


SERIF = ["Liberation Serif", "DejaVu Serif"]

panel_letters = [("(a)", 50, 43), ("(b)", 42, 585), ("(c)", 46, 1120), ("(d)", 45, 1660),
                 ("(e)", 2578, 100), ("(f)", 2574, 636), ("(g)", 2598, 1175), ("(h)", 2596, 1704)]
for s, x, y in panel_letters:
    px_text(x, y, s, family=SERIF, fontsize=44, color="black")

for y in [245, 787, 1325, 1853]:
    px_text(91, y, "B(72°)", family=SERIF, fontsize=44, rotation=90, color="black")

for x, y in [(2737, 261), (2749, 795), (2737, 1333), (2737, 1870)]:
    px_text(x, y, "PSD [a.u.]", family=SERIF, fontsize=44, rotation=90, color="black")

px_text(1034, 2218, "t [kyr]", fontsize=43, color="black")
px_text(2313, 2215, "Period [yr]", family=SERIF, fontsize=44, color="black")

peak_labels = [("22.14", 2182, 107), ("22.14", 2182, 642), ("22.14", 2182, 1178), ("22.14", 2182, 1714),
               ("193", 2321, 735), ("96", 2228, 784), ("64", 2181, 863), ("193", 2321, 1271), ("193", 2321, 1793)]
for s, x, y in peak_labels:
    px_text(x, y, s, family=SERIF, fontsize=37, color="red")

fig.savefig("out.png", dpi=100, facecolor="white")
